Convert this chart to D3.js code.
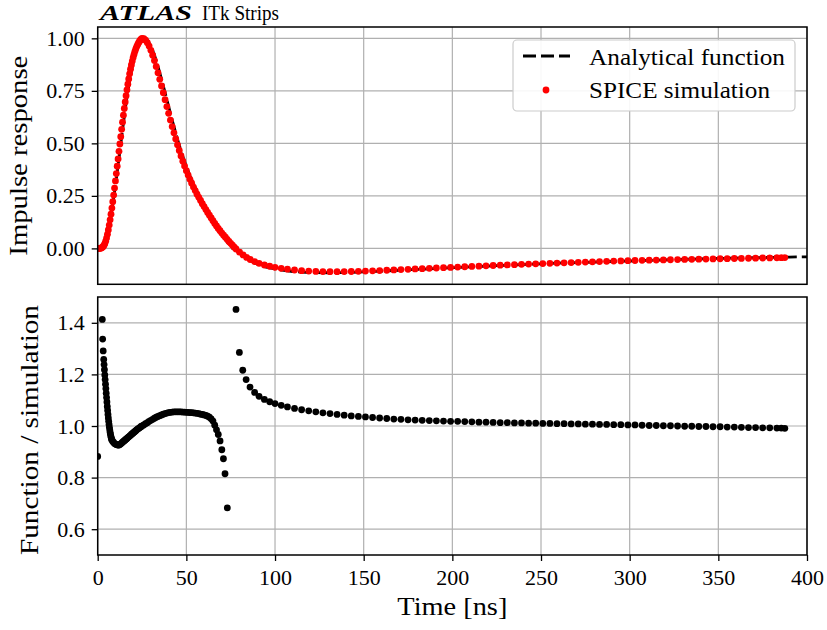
<!DOCTYPE html>
<html>
<head>
<meta charset="utf-8">
<script src="https://cdn.jsdelivr.net/npm/d3@7"></script>
<style>
  html, body { margin: 0; padding: 0; background: #ffffff; }
  svg { display: block; }
  text { font-family: "Liberation Serif", "DejaVu Serif", serif; fill: #000; }
</style>
</head>
<body>
<svg id="chart" width="827" height="630"></svg>
<script>
// ---------------- data ----------------
const xTickValues = [0, 50, 100, 150, 200, 250, 300, 350, 400];
const topTickValues = [0.00, 0.25, 0.50, 0.75, 1.00];
const botTickValues = [0.6, 0.8, 1.0, 1.2, 1.4];

const titleBold = "ATLAS";
const titleRest = "ITk Strips";
const xLabel = "Time [ns]";
const yLabelTop = "Impulse response";
const yLabelBot = "Function / simulation";
const legendLabels = ["Analytical function", "SPICE simulation"];

// SPICE simulation (time in ns, normalised response)
const simT = [0,0.5,1,1.5,2,2.5,3,3.5,4,4.5,5,5.5,6,6.5,7,7.5,8,8.5,9,9.5,10,10.5,11,11.5,12,12.5,13,13.5,14,14.5,15,15.5,16,16.5,17,17.5,18,18.5,19,19.5,20,20.5,21,21.5,22,22.5,23,23.5,24,24.5,25,
  26,27,28,29,30,31,32,33,34,35,36,37,38,39,40,41,42,43,44,45,46,47,48,49,50,51,52,53,54,55,56,57,58,59,60,61,62,63,64,65,66,67,68,69,70,71,72,73,74,75,76,77,78,
  80,82,84,86,88.5,91,94,97,100,103.5,107,111,115,
  119,123,127,131,135,139,143,147,151,155,159,163,167,171,175,179,183,187,191,195,199,203,207,211,215,219,223,227,231,235,239,243,247,251,255,259,263,267,271,275,279,283,287,291,295,299,303,307,311,315,319,323,327,331,335,339,343,347,351,355,359,363,367,371,375,379,383,385.5,387.5];
const simV = [0.000,0.000,0.000,0.001,0.002,0.004,0.008,0.014,0.022,0.034,0.049,0.067,0.088,0.111,0.136,0.163,0.192,0.222,0.254,0.287,0.321,0.356,0.391,0.426,0.462,0.497,0.532,0.567,0.601,0.634,0.666,0.697,0.727,0.755,0.782,0.807,0.831,0.853,0.873,0.892,0.909,0.924,0.938,0.950,0.961,0.970,0.978,0.985,0.991,0.996,1.000,
  0.998,0.991,0.979,0.963,0.943,0.920,0.894,0.866,0.836,0.805,0.773,0.741,0.708,0.675,0.643,0.611,0.580,0.550,0.521,0.493,0.466,0.440,0.415,0.392,0.370,0.349,0.329,0.310,0.292,0.275,0.258,0.243,0.228,0.213,0.199,0.185,0.171,0.158,0.145,0.132,0.119,0.107,0.095,0.084,0.073,0.063,0.053,0.043,0.033,0.024,0.015,0.006,-0.003,
  -0.018,-0.031,-0.043,-0.053,-0.063,-0.071,-0.079,-0.085,-0.090,-0.095,-0.099,-0.103,-0.106,
  -0.108,-0.1095,-0.1105,-0.111,-0.111,-0.1105,-0.110,-0.109,-0.108,-0.107,-0.1055,-0.104,-0.1025,-0.101,-0.0995,-0.098,-0.0965,-0.095,-0.0935,-0.092,-0.0905,-0.089,-0.0875,-0.086,-0.0845,-0.083,-0.0815,-0.080,-0.0787,-0.0774,-0.0761,-0.0748,-0.0735,-0.0722,-0.071,-0.0698,-0.0686,-0.0674,-0.0662,-0.065,-0.0639,-0.0628,-0.0617,-0.0606,-0.0595,-0.0585,-0.0577,-0.0570,-0.0563,-0.0556,-0.0549,-0.0542,-0.0535,-0.0528,-0.0521,-0.0514,-0.0507,-0.0500,-0.0494,-0.0488,-0.0482,-0.0476,-0.0470,-0.0464,-0.0458,-0.0452,-0.0446,-0.0443,-0.0440];

// Analytical function (dashed line)
const funcT = [0,2,4,6,8,10,12,14,16,18,20,22,24,26,28,30,32,34,36,38,40,42,44,46,48,50,52,54,56,58,60,62,64,66,68,70,72,74,76,78,80,85,90,95,100,105,110,115,120,130,140,150,160,170,180,190,200,210,220,230,240,250,260,270,280,290,300,310,320,330,340,350,360,370,380,390,400];
const funcV = [0.000,0.004,0.026,0.092,0.184,0.298,0.428,0.564,0.691,0.799,0.885,0.947,0.989,1.002,0.992,0.964,0.921,0.867,0.806,0.742,0.676,0.611,0.550,0.492,0.437,0.390,0.346,0.307,0.271,0.238,0.208,0.178,0.149,0.119,0.092,0.066,0.042,0.020,0.000,-0.010,-0.023,-0.053,-0.075,-0.089,-0.098,-0.105,-0.110,-0.113,-0.115,-0.116,-0.115,-0.112,-0.108,-0.104,-0.100,-0.096,-0.092,-0.088,-0.084,-0.0805,-0.077,-0.0735,-0.070,-0.0675,-0.065,-0.0625,-0.060,-0.0575,-0.055,-0.0525,-0.050,-0.048,-0.046,-0.0445,-0.043,-0.0415,-0.040];

// Ratio function / simulation
const ratioT = [0,2.6,2.8,3.1,3.4,3.6,3.8,4.0,4.2,4.4,4.6,4.8,5.0,5.2,5.4,5.6,5.8,6.0,6.2,6.4,6.6,6.8,7.0,7.2,7.4,7.6,7.8,8.0,
  8.5,9,9.5,10,10.5,11,11.5,12,12.5,13,13.5,14,14.5,15,15.5,16,16.5,17,17.5,18,18.5,19,19.5,20,20.5,21,21.5,22,22.5,23,23.5,24,24.5,25,
  26,27,28,29,30,31,32,33,34,35,36,37,38,39,40,41,42,43,44,45,46,47,48,49,50,51,52,53,54,55,56,57,58,59,60,61,62,63,64,65,66,67,68,69,
  70,70.9,71.8,73.1,
  78,79.9,81.8,83.7,85.9,88.5,91,94,97,100,103.5,107,111,115,
  119,123,127,131,135,139,143,147,151,155,159,163,167,171,175,179,183,187,191,195,199,203,207,211,215,219,223,227,231,235,239,243,247,251,255,259,263,267,271,275,279,283,287,291,295,299,303,307,311,315,319,323,327,331,335,339,343,347,351,355,359,363,367,371,375,379,383,385.5,387.5];
const ratioV = [0.882,1.413,1.337,1.291,1.258,1.238,1.218,1.198,1.180,1.162,1.145,1.127,1.110,1.093,1.076,1.060,1.045,1.031,1.018,1.006,0.995,0.985,0.976,0.968,0.961,0.955,0.950,0.946,
  0.940,0.936,0.932,0.930,0.928,0.927,0.926,0.926,0.928,0.931,0.934,0.937,0.940,0.943,0.946,0.949,0.952,0.955,0.958,0.961,0.964,0.967,0.970,0.973,0.976,0.979,0.982,0.985,0.988,0.990,0.993,0.995,0.998,1.000,
  1.004,1.009,1.013,1.018,1.022,1.026,1.030,1.034,1.037,1.040,1.043,1.046,1.048,1.050,1.052,1.053,1.054,1.055,1.055,1.055,1.055,1.055,1.054,1.054,1.053,1.053,1.052,1.052,1.051,1.050,1.049,1.048,1.046,1.045,1.043,1.041,1.038,1.034,1.028,1.019,1.003,0.985,0.967,0.942,
  0.908,0.873,0.815,0.683,
  1.452,1.285,1.216,1.180,1.151,1.130,1.115,1.103,1.094,1.087,1.080,1.074,1.068,1.063,
  1.059,1.055,1.051,1.048,1.045,1.042,1.039,1.037,1.035,1.033,1.031,1.029,1.027,1.026,1.024,1.023,1.022,1.021,1.020,1.019,1.018,1.018,1.017,1.016,1.015,1.015,1.014,1.013,1.013,1.012,1.012,1.011,1.011,1.010,1.010,1.009,1.009,1.008,1.008,1.007,1.007,1.006,1.006,1.005,1.005,1.004,1.004,1.003,1.002,1.002,1.001,1.001,1.000,0.999,0.999,0.998,0.998,0.997,0.997,0.996,0.996,0.995,0.994,0.994,0.993,0.993,0.992,0.992,0.991];

// ---------------- drawing ----------------
const svg = d3.select("#chart");
svg.append("rect").attr("width", 827).attr("height", 630).attr("fill", "#fff");

const X0 = 97.7, X1 = 807;
const pTop = {t: 27, b: 284.3};
const pBot = {t: 297, b: 555};

const x = d3.scaleLinear().domain([0, 400]).range([X0, X1]);
const yTop = d3.scaleLinear().domain([-0.171, 1.054]).range([pTop.b, pTop.t]);
const yBot = d3.scaleLinear().domain([0.5, 1.5]).range([pBot.b, pBot.t]);

const defs = svg.append("defs");
defs.append("clipPath").attr("id", "clipTop").append("rect")
  .attr("x", X0).attr("y", pTop.t).attr("width", X1 - X0).attr("height", pTop.b - pTop.t);
defs.append("clipPath").attr("id", "clipBot").append("rect")
  .attr("x", X0).attr("y", pBot.t).attr("width", X1 - X0).attr("height", pBot.b - pBot.t);

const gridColor = "#b0b0b0";

function panelGrid(yScale, yTicks, p) {
  const g = svg.append("g");
  g.selectAll("line.gx").data(xTickValues).join("line")
    .attr("x1", d => x(d)).attr("x2", d => x(d))
    .attr("y1", p.t).attr("y2", p.b)
    .attr("stroke", gridColor).attr("stroke-width", 1.2);
  g.selectAll("line.gy").data(yTicks).join("line")
    .attr("x1", X0).attr("x2", X1)
    .attr("y1", d => yScale(d)).attr("y2", d => yScale(d))
    .attr("stroke", gridColor).attr("stroke-width", 1.2);
}

panelGrid(yTop, topTickValues, pTop);
panelGrid(yBot, botTickValues, pBot);

// top panel: analytical dashed line
const funcData = d3.zip(funcT, funcV);
svg.append("path")
  .datum(funcData)
  .attr("clip-path", "url(#clipTop)")
  .attr("fill", "none")
  .attr("stroke", "#000")
  .attr("stroke-width", 2.8)
  .attr("stroke-dasharray", "13,5")
  .attr("d", d3.line().x(d => x(d[0])).y(d => yTop(d[1])));

// top panel: SPICE dots
const simData = d3.zip(simT, simV);
svg.append("g").attr("clip-path", "url(#clipTop)")
  .selectAll("circle").data(simData).join("circle")
  .attr("cx", d => x(d[0])).attr("cy", d => yTop(d[1]))
  .attr("r", 3.4).attr("fill", "#ff0000");

// bottom panel: ratio dots
const ratioData = d3.zip(ratioT, ratioV);
svg.append("g").attr("clip-path", "url(#clipBot)")
  .selectAll("circle").data(ratioData).join("circle")
  .attr("cx", d => x(d[0])).attr("cy", d => yBot(d[1]))
  .attr("r", 3.4).attr("fill", "#000");

// axes
function styleAxis(g) {
  g.select(".domain").remove();
  g.selectAll(".tick line").attr("stroke", "#000").attr("stroke-width", 1.3);
  g.selectAll(".tick text")
    .attr("fill", "#000")
    .style("font-family", '"Liberation Serif", "DejaVu Serif", serif')
    .style("font-size", "22px");
}

svg.append("g").attr("transform", `translate(${X0},0)`)
  .call(d3.axisLeft(yTop).tickValues(topTickValues).tickFormat(d3.format(".2f")).tickSize(6).tickPadding(7))
  .call(styleAxis);

svg.append("g").attr("transform", `translate(${X0},0)`)
  .call(d3.axisLeft(yBot).tickValues(botTickValues).tickFormat(d3.format(".1f")).tickSize(6).tickPadding(7))
  .call(styleAxis);

const xAxisG = svg.append("g").attr("transform", `translate(0,${pBot.b})`)
  .call(d3.axisBottom(x).tickValues(xTickValues).tickFormat(d3.format("d")).tickSize(6).tickPadding(8))
  .call(styleAxis);
xAxisG.selectAll(".tick text").attr("dy", "0.71em");

// frames
[pTop, pBot].forEach(p => {
  svg.append("rect")
    .attr("x", X0).attr("y", p.t).attr("width", X1 - X0).attr("height", p.b - p.t)
    .attr("fill", "none").attr("stroke", "#000").attr("stroke-width", 1.5);
});

// labels
svg.append("text")
  .attr("transform", `translate(27,${(pTop.t + pTop.b) / 2}) rotate(-90)`)
  .attr("text-anchor", "middle")
  .attr("font-size", 25)
  .attr("textLength", 200).attr("lengthAdjust", "spacingAndGlyphs")
  .text(yLabelTop);

svg.append("text")
  .attr("transform", `translate(38,${(pBot.t + pBot.b) / 2 + 4}) rotate(-90)`)
  .attr("text-anchor", "middle")
  .attr("font-size", 25)
  .attr("textLength", 250).attr("lengthAdjust", "spacingAndGlyphs")
  .text(yLabelBot);

svg.append("text")
  .attr("x", (X0 + X1) / 2).attr("y", 615)
  .attr("text-anchor", "middle")
  .attr("font-size", 25)
  .attr("textLength", 110).attr("lengthAdjust", "spacingAndGlyphs")
  .text(xLabel);

// title
svg.append("text")
  .attr("x", 100).attr("y", 20)
  .attr("font-size", 22)
  .attr("font-weight", "bold").attr("font-style", "italic")
  .attr("textLength", 92).attr("lengthAdjust", "spacingAndGlyphs")
  .text(titleBold);
svg.append("text")
  .attr("x", 202).attr("y", 20)
  .attr("font-size", 22)
  .attr("textLength", 77).attr("lengthAdjust", "spacingAndGlyphs")
  .text(titleRest);

// legend
const leg = svg.append("g");
leg.append("rect")
  .attr("x", 513).attr("y", 40).attr("width", 282).attr("height", 71)
  .attr("rx", 4).attr("ry", 4)
  .attr("fill", "#fff").attr("fill-opacity", 0.9)
  .attr("stroke", "#cccccc").attr("stroke-width", 1.2);
leg.append("line")
  .attr("x1", 523).attr("x2", 570).attr("y1", 56).attr("y2", 56)
  .attr("stroke", "#000").attr("stroke-width", 2.8).attr("stroke-dasharray", "13,5");
leg.append("circle")
  .attr("cx", 546).attr("cy", 90).attr("r", 3.4).attr("fill", "#ff0000");
leg.append("text")
  .attr("x", 589).attr("y", 65).attr("font-size", 24)
  .attr("textLength", 196).attr("lengthAdjust", "spacingAndGlyphs")
  .text(legendLabels[0]);
leg.append("text")
  .attr("x", 589).attr("y", 98).attr("font-size", 24)
  .attr("textLength", 181).attr("lengthAdjust", "spacingAndGlyphs")
  .text(legendLabels[1]);
</script>
</body>
</html>
